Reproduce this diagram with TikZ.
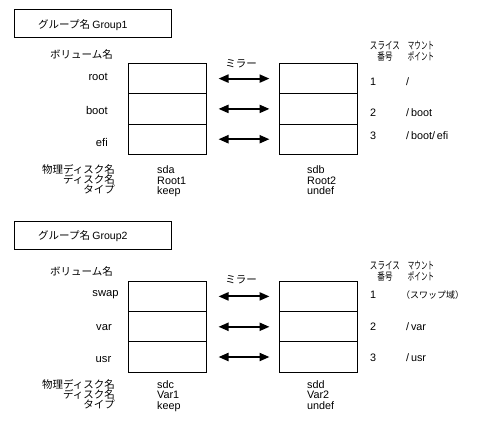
\documentclass[tikz,border=0pt]{standalone}
\usepackage{fontspec}
\setmainfont{Liberation Sans}
\newfontfamily\jp{Noto Sans CJK JP}
\usetikzlibrary{arrows.meta}
\begin{document}
\begin{tikzpicture}[x=1pt,y=-1pt,
  lbl/.style={inner sep=0pt, text height=8pt, text depth=2pt, font=\fontsize{10.8}{12}\selectfont},
  rlbl/.style={lbl, font=\fontsize{11.2}{12}\selectfont},
  jlbl/.style={inner sep=0pt, text height=8.5pt, text depth=2pt, font=\jp\fontsize{10.5}{12}\selectfont},
  hdr/.style={inner sep=0pt, align=center, font=\jp\fontsize{10.5}{11}\selectfont},
  grpbox/.style={draw, line width=1pt, minimum width=157pt, minimum height=28pt, inner sep=0pt},
  row/.style={draw, line width=1pt, minimum width=78pt, minimum height=30.3pt, inner sep=0pt},
  mirror/.style={{Triangle[length=10pt,width=8pt]}-{Triangle[length=10pt,width=8pt]}, line width=2.1pt},
]
\path[use as bounding box] (0,0) rectangle (500,420);

% ---------------- Group 1 ----------------
\node[grpbox] (g1box) at (92.5,24) {};
\node[jlbl, anchor=west] (g1name) at (38,25.5) {グループ名 {\rmfamily\fontsize{10.5}{10}\selectfont Group1}};
\node[jlbl, anchor=west] (g1vol) at (50,55) {ボリューム名};

\node[row] (g1l1) at (167,78.6) {};
\node[row] (g1l2) at (167,108.9) {};
\node[row] (g1l3) at (167,139.2) {};
\node[row] (g1r1) at (318,78.6) {};
\node[row] (g1r2) at (318,108.9) {};
\node[row] (g1r3) at (318,139.2) {};

\node[rlbl, anchor=east] (g1n1) at (108,77) {root};
\node[rlbl, anchor=east] (g1n2) at (108,111) {boot};
\node[rlbl, anchor=east] (g1n3) at (108,143) {efi};

\node[jlbl] (g1mir) at (241,64) {ミラー};
\draw[mirror] ([xshift=12pt]g1l1.east) -- ([xshift=-9pt]g1r1.west);
\draw[mirror] ([xshift=12pt]g1l2.east) -- ([xshift=-9pt]g1r2.west);
\draw[mirror] ([xshift=12pt]g1l3.east) -- ([xshift=-9pt]g1r3.west);

\node[hdr] (g1slice) at (385,51.5) {\scalebox{0.72}[1]{スライス}\\\scalebox{0.72}[1]{番号}};
\node[hdr] (g1mount) at (421,51.5) {\scalebox{0.62}[1]{マウント}\\\scalebox{0.62}[1]{ポイント}};

\node[lbl] (g1s1) at (373,82) {1};
\node[lbl] (g1s2) at (373,113) {2};
\node[lbl] (g1s3) at (373,136) {3};
\node[lbl, anchor=west] (g1m1) at (406,82) {/};
\node[lbl, anchor=west] (g1m2) at (406,113) {/\,boot};
\node[lbl, anchor=west] (g1m3) at (406,136) {/\,boot/\,efi};

\node[jlbl, anchor=east] (g1pd) at (115,170.5) {物理ディスク名};
\node[jlbl, anchor=east] (g1dn) at (115,180.5) {ディスク名};
\node[jlbl, anchor=east] (g1ty) at (115,190.5) {タイプ};
\node[lbl, anchor=west] (g1a1) at (157,170.5) {sda};
\node[lbl, anchor=west] (g1a2) at (157,181) {Root1};
\node[lbl, anchor=west] (g1a3) at (157,191.5) {keep};
\node[lbl, anchor=west] (g1b1) at (307,170.5) {sdb};
\node[lbl, anchor=west] (g1b2) at (307,181) {Root2};
\node[lbl, anchor=west] (g1b3) at (307,191.5) {undef};

% ---------------- Group 2 ----------------
\node[grpbox] (g2box) at (92.5,235) {};
\node[jlbl, anchor=west] (g2name) at (38,236) {グループ名 {\rmfamily\fontsize{10.5}{10}\selectfont Group2}};
\node[jlbl, anchor=west] (g2vol) at (50,272) {ボリューム名};

\node[row] (g2l1) at (167,296.4) {};
\node[row] (g2l2) at (167,326.8) {};
\node[row] (g2l3) at (167,357.0) {};
\node[row] (g2r1) at (318,296.4) {};
\node[row] (g2r2) at (318,326.8) {};
\node[row] (g2r3) at (318,357.0) {};

\node[rlbl] (g2n1) at (105.5,293) {swap};
\node[rlbl] (g2n2) at (104,327) {var};
\node[rlbl] (g2n3) at (103.5,359) {usr};

\node[jlbl] (g2mir) at (241,280) {ミラー};
\draw[mirror] ([xshift=12pt]g2l1.east) -- ([xshift=-9pt]g2r1.west);
\draw[mirror] ([xshift=12pt]g2l2.east) -- ([xshift=-9pt]g2r2.west);
\draw[mirror] ([xshift=12pt]g2l3.east) -- ([xshift=-9pt]g2r3.west);

\node[hdr] (g2slice) at (385,271.5) {\scalebox{0.72}[1]{スライス}\\\scalebox{0.72}[1]{番号}};
\node[hdr] (g2mount) at (421,271.5) {\scalebox{0.62}[1]{マウント}\\\scalebox{0.62}[1]{ポイント}};

\node[lbl] (g2s1) at (373,295) {1};
\node[lbl] (g2s2) at (373,327) {2};
\node[lbl] (g2s3) at (373,358) {3};
\node[jlbl, anchor=west, font=\jp\fontsize{9}{10}\selectfont] (g2m1) at (401,295) {（スワップ域）};
\node[lbl, anchor=west] (g2m2) at (406,327) {/\,var};
\node[lbl, anchor=west] (g2m3) at (406,358) {/\,usr};

\node[jlbl, anchor=east] (g2pd) at (115,385) {物理ディスク名};
\node[jlbl, anchor=east] (g2dn) at (115,395) {ディスク名};
\node[jlbl, anchor=east] (g2ty) at (115,405) {タイプ};
\node[lbl, anchor=west] (g2a1) at (157,385) {sdc};
\node[lbl, anchor=west] (g2a2) at (157,395.5) {Var1};
\node[lbl, anchor=west] (g2a3) at (157,406) {keep};
\node[lbl, anchor=west] (g2b1) at (307,385) {sdd};
\node[lbl, anchor=west] (g2b2) at (307,395.5) {Var2};
\node[lbl, anchor=west] (g2b3) at (307,406) {undef};
\end{tikzpicture}
\end{document}
